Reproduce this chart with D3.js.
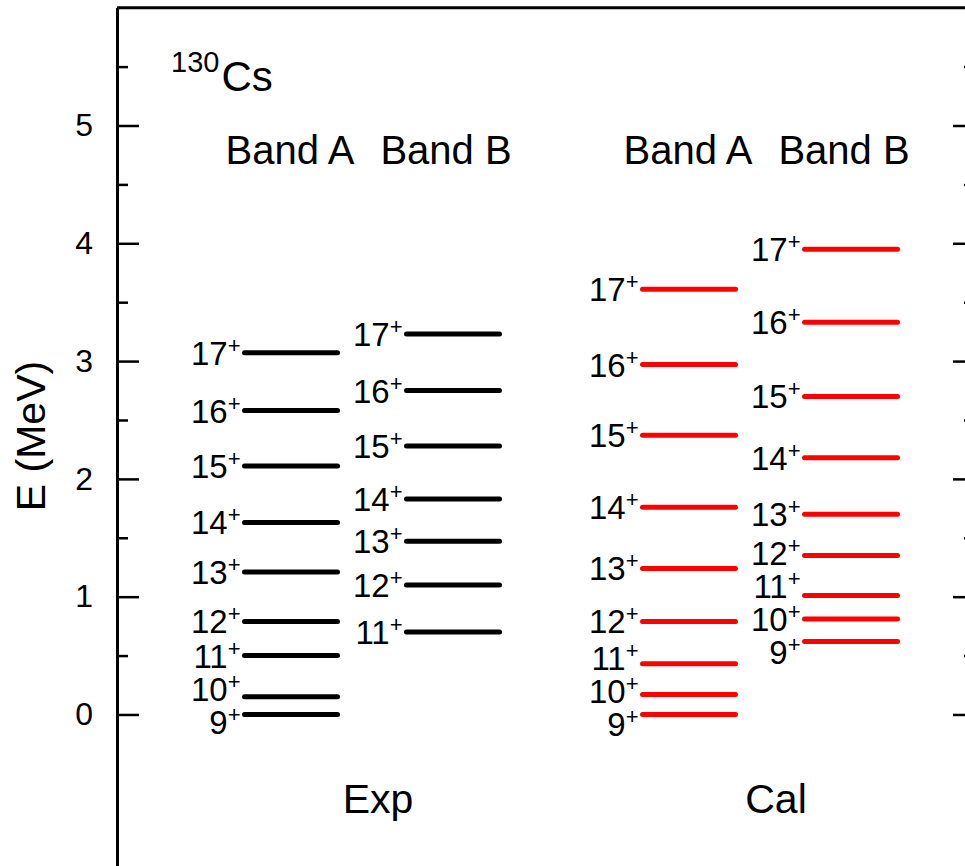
<!DOCTYPE html>
<html>
<head>
<meta charset="utf-8">
<script src="https://d3js.org/d3.v7.min.js"></script>
<style>
  body { margin: 0; background: #fff; }
  text { font-family: "Liberation Sans", Arial, sans-serif; fill: #000; }
</style>
</head>
<body>
<div id="chart"></div>
<script>
// Level energies (MeV) for 130Cs
var spinsFull = [9, 10, 11, 12, 13, 14, 15, 16, 17];
var spinsExpB = [11, 12, 13, 14, 15, 16, 17];
var expBandA = [0.00, 0.15, 0.50, 0.79, 1.21, 1.63, 2.11, 2.58, 3.07];
var expBandB = [0.70, 1.10, 1.47, 1.83, 2.28, 2.75, 3.23];
var calBandA = [0.00, 0.17, 0.43, 0.79, 1.24, 1.76, 2.37, 2.97, 3.61];
var calBandB = [0.62, 0.81, 1.01, 1.35, 1.70, 2.18, 2.70, 3.33, 3.95];

var groups = ["Exp", "Cal"];
var bands = ["Band A", "Band B"];
var majorTicks = [0, 1, 2, 3, 4, 5];
var minorTicks = [0.5, 1.5, 2.5, 3.5, 4.5, 5.5];

var series = [
  { group: "Exp", band: "Band A", spins: spinsFull, energies: expBandA, color: "#000" },
  { group: "Exp", band: "Band B", spins: spinsExpB, energies: expBandB, color: "#000" },
  { group: "Cal", band: "Band A", spins: spinsFull, energies: calBandA, color: "#ff0000" },
  { group: "Cal", band: "Band B", spins: spinsFull, energies: calBandB, color: "#ff0000" }
];

var width = 965, height = 866;
var plotLeft = 117, plotRight = 975, plotTop = 7.7, plotBottom = 867.6;

var svg = d3.select("#chart").append("svg")
    .attr("width", width)
    .attr("height", height);

var y = d3.scaleLinear().domain([-1.3, 6]).range([plotBottom, plotTop]);

var xGroup = d3.scaleBand().domain(groups).range([173, 969]);
var xBand = d3.scalePoint().domain(bands).range([-81, 81]);
var xHead = d3.scalePoint().domain(bands).range([-82, 74]);
function groupX(g) { return xGroup(g) + xGroup.bandwidth() / 2; }
function colX(g, b) { return groupX(g) + xBand(b); }

var halfLine = 46.5;

// Axes
var axisStyle = function(g) {
  g.select(".domain").attr("stroke-width", 3);
  g.selectAll(".tick line").attr("stroke-width", 2.5);
  g.selectAll(".tick text").style("font-size", "32px")
    .style("font-family", "'Liberation Sans', Arial, sans-serif");
};

svg.append("g")
    .attr("transform", "translate(" + plotLeft + ",0)")
    .call(d3.axisLeft(y).tickValues(majorTicks).tickSizeInner(-22).tickSizeOuter(0)
      .tickPadding(24).tickFormat(d3.format("d")))
    .call(axisStyle);

svg.append("g")
    .attr("transform", "translate(" + plotLeft + ",0)")
    .call(d3.axisLeft(y).tickValues(minorTicks).tickSizeInner(-11).tickSizeOuter(0).tickFormat(""))
    .call(axisStyle);

svg.append("g")
    .attr("transform", "translate(" + plotRight + ",0)")
    .call(d3.axisRight(y).tickValues(majorTicks).tickSizeInner(-22).tickSizeOuter(0).tickFormat(""))
    .call(axisStyle);

svg.append("g")
    .attr("transform", "translate(" + plotRight + ",0)")
    .call(d3.axisRight(y).tickValues(minorTicks).tickSizeInner(-11).tickSizeOuter(0).tickFormat(""))
    .call(axisStyle);

// top border
svg.append("line")
    .attr("x1", plotLeft).attr("x2", plotRight)
    .attr("y1", plotTop).attr("y2", plotTop)
    .attr("stroke", "#000")
    .attr("stroke-width", 3);

// axis title
svg.append("text")
    .attr("transform", "translate(45,436) rotate(-90)")
    .attr("text-anchor", "middle")
    .style("font-size", "41px")
    .text("E (MeV)");

// nucleus label
var nuc = svg.append("text")
    .attr("x", 171)
    .attr("y", 72);
nuc.append("tspan").style("font-size", "29px").text("130");
nuc.append("tspan").attr("dx", 2).attr("dy", 19).style("font-size", "42px").text("Cs");

// group labels
svg.selectAll(".groupLabel")
  .data(groups)
  .enter().append("text")
    .attr("class", "groupLabel")
    .attr("x", function(d) { return groupX(d) + 6; })
    .attr("y", 813)
    .attr("text-anchor", "middle")
    .style("font-size", "41px")
    .text(function(d) { return d; });

// band headers
svg.selectAll(".bandLabel")
  .data(series)
  .enter().append("text")
    .attr("class", "bandLabel")
    .attr("x", function(d) { return groupX(d.group) + xHead(d.band); })
    .attr("y", 164)
    .attr("text-anchor", "middle")
    .style("font-size", "40px")
    .text(function(d) { return d.band; });

// spread out level labels so they don't overlap
function spreadLabels(ys, gap) {
  var pos = ys.slice();
  for (var it = 0; it < 200; it++) {
    var moved = false;
    for (var i = 0; i < pos.length - 1; i++) {
      // pos[i] is lower energy -> bigger pixel y
      var d = pos[i] - pos[i + 1];
      if (d < gap - 0.01) {
        var shift = (gap - d) / 2;
        pos[i] += shift;
        pos[i + 1] -= shift;
        moved = true;
      }
    }
    if (!moved) break;
  }
  return pos;
}

var bandG = svg.selectAll(".band")
  .data(series)
  .enter().append("g")
    .attr("class", "band");

bandG.each(function(s) {
  var g = d3.select(this);
  var cx = colX(s.group, s.band);
  var levels = s.energies.map(function(e, i) { return { e: e, spin: s.spins[i] }; });
  var labelY = spreadLabels(levels.map(function(d) { return y(d.e); }), 33);

  g.selectAll("line")
    .data(levels)
    .enter().append("line")
      .attr("x1", cx - halfLine)
      .attr("x2", cx + halfLine)
      .attr("y1", function(d) { return y(d.e); })
      .attr("y2", function(d) { return y(d.e); })
      .attr("stroke", s.color)
      .attr("stroke-width", 5)
      .attr("stroke-linecap", "round");

  var t = g.selectAll("text")
    .data(levels)
    .enter().append("text")
      .attr("x", cx - halfLine - 4)
      .attr("y", function(d, i) { return labelY[i] + 12; })
      .attr("text-anchor", "end")
      .style("font-size", "33px");
  t.append("tspan").text(function(d) { return d.spin; });
  t.append("tspan")
      .attr("dy", -12)
      .style("font-size", "22px")
      .text("+");
});
</script>
</body>
</html>
